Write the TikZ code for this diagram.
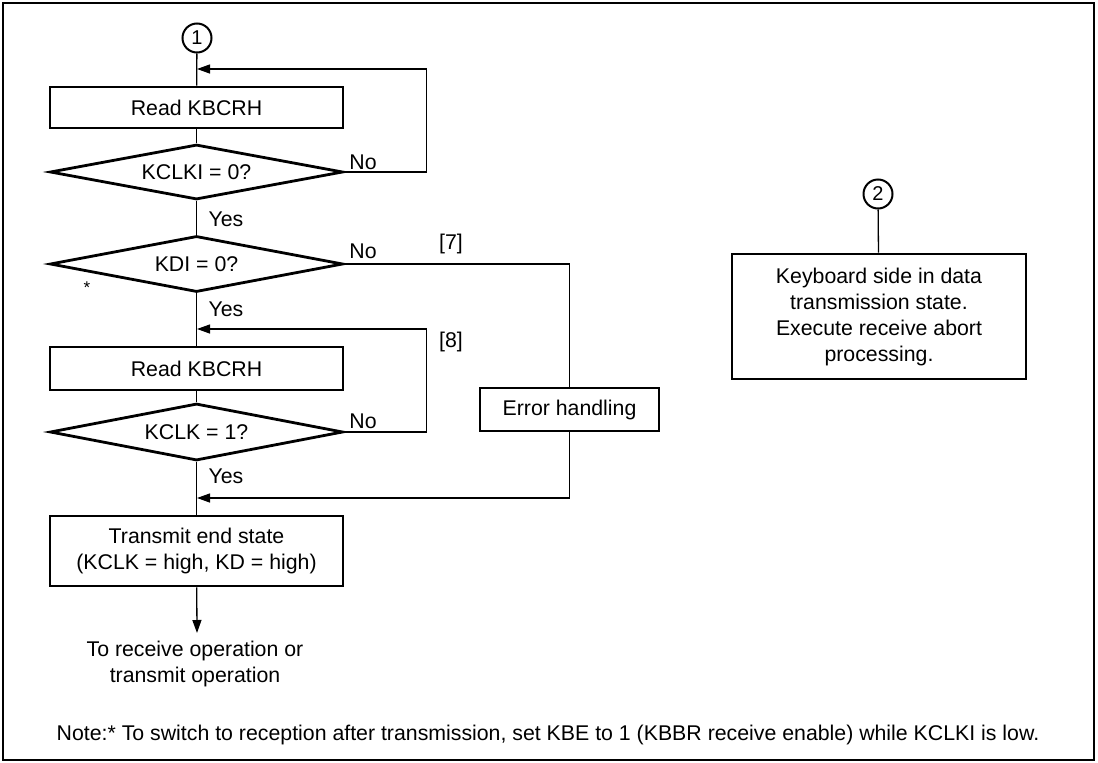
\documentclass[tikz,border=0pt]{standalone}
\usepackage{fontspec}
\setmainfont{Liberation Sans}
\usetikzlibrary{arrows.meta,shapes.geometric}
\begin{document}
\begin{tikzpicture}[x=1pt,y=-1pt,
  every node/.style={font=\fontsize{21.3}{26}\selectfont},
  box/.style={draw,line width=2.8pt,minimum width=293pt,align=center,inner sep=0pt},
  dia/.style={draw,line width=2.8pt,diamond,minimum width=293pt,inner sep=0pt,aspect=5},
  conn/.style={line width=1.3pt},
  arr/.style={conn,-{Triangle[length=13pt,width=9pt]}},
  conncirc/.style={draw,circle,line width=2pt,minimum size=29pt,inner sep=0pt,font=\fontsize{20}{22}\selectfont},
  lbl/.style={inner sep=0pt}
]
\useasboundingbox (0,0) rectangle (1098,763);
\draw[line width=2.6pt] (3,3) rectangle (1094,760);

% left flow
\node[conncirc] (c1) at (197,38) {1};
\node[box,minimum height=41pt] (b1) at (196.5,107.5) {Read KBCRH};
\node[dia,minimum height=55pt] (d1) at (196.5,172) {KCLKI = 0?};
\node[dia,minimum height=56pt] (d2) at (196.5,264) {KDI = 0?};
\node[box,minimum height=43pt] (b2) at (196.5,368.5) {Read KBCRH};
\node[dia,minimum height=57pt] (d3) at (196.5,432) {KCLK = 1?};
\node[box,minimum height=70pt] (b3) at (196.5,551) {Transmit end state\\(KCLK = high, KD = high)};
\node[box,minimum width=179pt,minimum height=43pt] (err) at (569.5,409.5) {Error handling};
\node[align=center,inner sep=0pt] (out) at (195,664) {To receive operation or\\transmit operation};

\coordinate (j1) at (197,69);
\coordinate (j2) at (197,329);
\coordinate (j3) at (197,498);
\coordinate (endc) at (197,633);

\draw[conn] (c1) -- (b1);
\draw[conn] (b1) -- (d1);
\draw[conn] (d1) -- (d2);
\draw[conn] (d2) -- (b2);
\draw[conn] (b2) -- (d3);
\draw[conn] (d3) -- (b3);
\draw[arr] (b3) -- (endc);
\draw[arr] (d1.east) -- ++(82,0) |- (j1);
\draw[arr] (d3.east) -- ++(82,0) |- (j2);
\draw[conn] (d2.east) -| (err.north);
\draw[arr] (err.south) |- (j3);

% labels
\node[lbl] (no1) at (363,162) {No};
\node[lbl] (yes1) at (226,219) {Yes};
\node[lbl] (no2) at (363,251) {No};
\node[lbl] (l7) at (451,244) {[7]};
\node[lbl,font=\fontsize{17}{17}\selectfont] (ast) at (87,288) {*};
\node[lbl] (yes2) at (226,309) {Yes};
\node[lbl] (l8) at (451,342) {[8]};
\node[lbl] (no3) at (363,421) {No};
\node[lbl] (yes3) at (226,476) {Yes};

% right part
\node[conncirc] (c2) at (878,194) {2};
\node[box,minimum width=294pt,minimum height=125pt] (kb) at (879,316.5) {Keyboard side in data\\transmission state.\\Execute receive abort\\processing.};
\draw[conn] (c2) -- (kb);

% note
\node[lbl] (note) at (548,735) {Note:* To switch to reception after transmission, set KBE to 1 (KBBR receive enable) while KCLKI is low.};
\end{tikzpicture}
\end{document}
